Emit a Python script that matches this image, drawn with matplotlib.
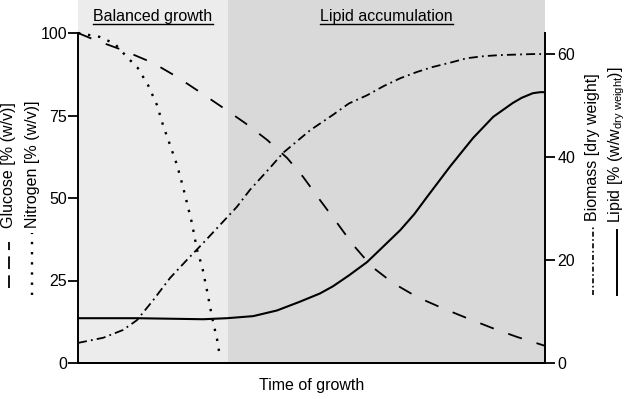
import matplotlib.pyplot as plt
from matplotlib.lines import Line2D
from matplotlib.transforms import blended_transform_factory

plt.rcParams['font.family'] = ['Liberation Sans', 'DejaVu Sans']
plt.rcParams['mathtext.fontset'] = 'custom'
plt.rcParams['mathtext.rm'] = 'Liberation Sans'
plt.rcParams['mathtext.it'] = 'Liberation Sans:italic'

W, H = 630, 399

# time of growth as a fraction of the run
glucose_t = [0, 0.036, 0.096, 0.161, 0.212, 0.261, 0.308, 0.358, 0.405, 0.448, 0.482,
             0.518, 0.555, 0.589, 0.630, 0.675, 0.726, 0.779, 0.833, 0.887, 0.940, 1.0]
glucose = [100, 97.9, 94.8, 90.9, 86.7, 82.1, 77.6, 72.7, 67.6, 62.1, 56.4,
           49.4, 42.4, 35.8, 29.1, 24.2, 20.0, 16.7, 13.6, 10.6, 7.9, 5.2]

nitrogen_t = [0, 0.047, 0.079, 0.105, 0.128, 0.150, 0.169, 0.182, 0.197, 0.212, 0.225,
              0.244, 0.255, 0.266, 0.276, 0.287, 0.298, 0.304]
nitrogen = [100, 98.8, 96.7, 92.7, 89.4, 84.2, 78.2, 72.1, 66.1, 60.0, 53.3,
            42.4, 34.2, 29.1, 22.1, 13.9, 7.0, 1.8]

biomass_t = [0, 0.054, 0.096, 0.126, 0.161, 0.197, 0.233, 0.268, 0.304, 0.340, 0.368,
             0.411, 0.439, 0.497, 0.546, 0.580, 0.619, 0.655, 0.690, 0.725, 0.760,
             0.800, 0.833, 0.870, 0.904, 0.974, 1.0]
biomass = [3.9, 4.9, 6.4, 8.3, 12.2, 16.5, 20.0, 23.3, 26.8, 30.3, 33.6,
           37.9, 40.8, 45.2, 48.2, 50.4, 52.0, 53.8, 55.3, 56.5, 57.5,
           58.4, 59.2, 59.6, 59.8, 60.0, 60.0]

lipid_t = [0, 0.126, 0.268, 0.319, 0.375, 0.426, 0.475, 0.518, 0.546, 0.580, 0.619,
           0.650, 0.690, 0.720, 0.747, 0.797, 0.846, 0.889, 0.931, 0.950, 0.974, 0.990, 1.0]
lipid = [8.7, 8.7, 8.5, 8.7, 9.1, 10.2, 11.9, 13.5, 14.9, 17.0, 19.6,
         22.3, 25.8, 28.9, 32.2, 38.2, 43.7, 47.8, 50.5, 51.5, 52.4, 52.6, 52.6]

phase_split = 0.321
phase_labels = ['Balanced growth', 'Lipid accumulation']
left_ticks = [0, 25, 50, 75, 100]
right_ticks = [0, 20, 40, 60]

FS = 11.5


def fx(x):
    return x / W


def fy(y):
    return 1 - y / H


fig = plt.figure(figsize=(W / 100, H / 100), dpi=100)
ax = fig.add_axes([fx(78), fy(363), 467 / W, 363 / H])
ax2 = ax.twinx()

ax.axvspan(0, phase_split, color='#ececec', lw=0, zorder=0)
ax.axvspan(phase_split, 1, color='#d9d9d9', lw=0, zorder=0)

ax.plot(glucose_t, glucose, color='black', lw=1.3, dashes=(8, 8.5), solid_capstyle='butt')
ax.plot(nitrogen_t, nitrogen, color='black', lw=1.7, dashes=(1, 3.3))
ax2.plot(biomass_t, biomass, color='black', lw=1.3, dashes=(5, 2.3, 1, 2.3))
ax2.plot(lipid_t, lipid, color='black', lw=1.5)

ax.set_xlim(0, 1)
ax.set_ylim(0, 110)
ax2.set_ylim(0, 70.5)

for a in (ax, ax2):
    for s in a.spines.values():
        s.set_linewidth(1.4)
    a.spines['top'].set_visible(False)
    a.tick_params(axis='y', direction='out', length=7, width=1.3, labelsize=FS, pad=1)
ax.spines['left'].set_bounds(0, 100)
ax2.spines['right'].set_bounds(0, 64.1)
ax.spines['right'].set_visible(False)
ax2.spines['left'].set_visible(False)
ax.set_yticks(left_ticks)
ax2.set_yticks(right_ticks)
ax.set_xticks([])
ax2.tick_params(axis='y', pad=2)

ax.set_xlabel('Time of growth', fontsize=FS, labelpad=11)

# phase titles over the shaded regions
tr = blended_transform_factory(ax.transData, fig.transFigure)
titles = []
for xc, txt in zip([phase_split / 2, (1 + phase_split) / 2], phase_labels):
    titles.append(ax.text(xc, fy(17), txt, transform=tr, ha='center', va='center', fontsize=FS))

# axis labels with line samples
labels = [
    (9, 'Glucose [% (w/v)]', 228, (288, 242), dict(lw=1.3, dashes=(7, 3.5))),
    (32, 'Nitrogen [% (w/v)]', 228, (295, 233), dict(lw=1.7, dashes=(1, 3.3))),
    (593, 'Biomass [dry weight]', 221, (295, 227), dict(lw=1.2, dashes=(3, 1.5, 1, 1.5))),
    (617, r'Lipid [% (w/w$_{\mathrm{dry\ weight}}$)]', 223, (295, 230), dict(lw=1.4)),
]
for x, txt, ybot, (y0, y1), style in labels:
    fig.text(fx(x), fy(ybot), txt, rotation=90, ha='center', va='bottom', fontsize=FS)
    fig.add_artist(Line2D([fx(x), fx(x)], [fy(y0), fy(y1)], color='black', **style))

fig.canvas.draw()
for t in titles:
    bb = t.get_window_extent()
    fig.add_artist(Line2D([bb.x0 / W, bb.x1 / W], [fy(24), fy(24)], color='black', lw=1.0))

fig.savefig('out.png', dpi=100)
